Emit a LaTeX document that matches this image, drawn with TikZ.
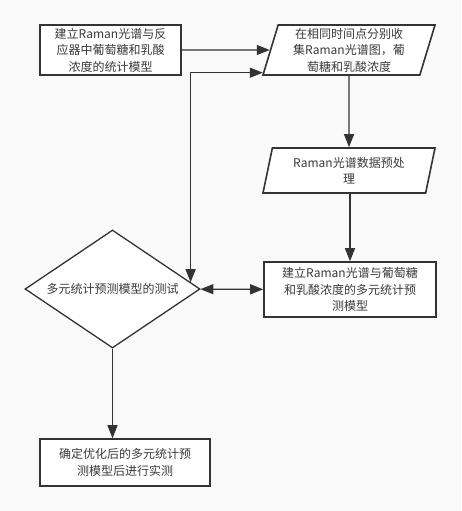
\documentclass[tikz,border=0pt]{standalone}
\usepackage{fontspec}
\newfontfamily\cjk{Noto Sans CJK SC}
\usetikzlibrary{shapes.geometric,arrows.meta,calc}
\definecolor{linegray}{HTML}{333333}
\definecolor{textgray}{HTML}{3A3A3A}
\definecolor{paper}{HTML}{F9F9F9}
\tikzstyle{block} = [draw=linegray,line width=1.6pt,fill=white,rectangle,inner sep=0,align=center,text=textgray]
\tikzstyle{io} = [draw=linegray,line width=1.6pt,fill=white,trapezium,trapezium left angle=71,trapezium right angle=109,trapezium stretches body,inner sep=0,align=center,text=textgray]
\tikzstyle{decision} = [draw=linegray,line width=1.3pt,fill=white,diamond,aspect=1.48,inner sep=0,align=center,text=textgray]
\tikzstyle{flow} = [line width=1.3pt,draw=linegray,-{Triangle[length=13pt,width=10pt]}]
\tikzstyle{bothflow} = [line width=1.3pt,draw=linegray,{Triangle[length=13pt,width=10pt]}-{Triangle[length=13pt,width=10pt]}]
\def \fs {\cjk\fontsize{12}{16.5}\selectfont}

\begin{document}
\begin{tikzpicture}[x=1pt,y=1pt,font=\fs]
  \fill[paper] (0,0) rectangle (461,-511);
  \useasboundingbox (0,0) rectangle (461,-511);
  % boxes
  \node[block,minimum width=141pt,minimum height=50pt] (model) at (110.5,-50)
    {建立Raman光谱与反\\应器中葡萄糖和乳酸\\浓度的统计模型};
  \node[io,minimum width=172pt,minimum height=50pt] (collect) at (349,-50)
    {在相同时间点分别收\\集Raman光谱图，葡\\萄糖和乳酸浓度};
  \node[io,minimum width=172pt,minimum height=45pt] (prep) at (349,-170.5)
    {Raman光谱数据预处\\理};
  \node[block,minimum width=172pt,minimum height=55pt] (multi) at (350,-289.5)
    {建立Raman光谱与葡萄糖\\和乳酸浓度的多元统计预\\测模型};
  \node[decision,minimum width=175pt,minimum height=118pt] (test) at (112.5,-289)
    {多元统计预测模型的测试};
  \node[block,minimum width=170pt,minimum height=47pt] (apply) at (125,-462.5)
    {确定优化后的多元统计预\\测模型后进行实测};
  % connectors
  \coordinate (back) at ($(test.north)!0.886!(test.east)$);
  \coordinate (entry) at ($(collect.bottom left corner)!0.06!(collect.top left corner)$);
  \draw[flow] (model) -- (collect);
  \draw[bothflow] (back) |- (entry);
  \draw[flow] (collect) -- (prep);
  \draw[flow] (prep.south -| multi.north) -- (multi);
  \draw[bothflow] (test) -- (multi);
  \draw[flow] (test.south) -- (test.south |- apply.north);
\end{tikzpicture}
\end{document}
